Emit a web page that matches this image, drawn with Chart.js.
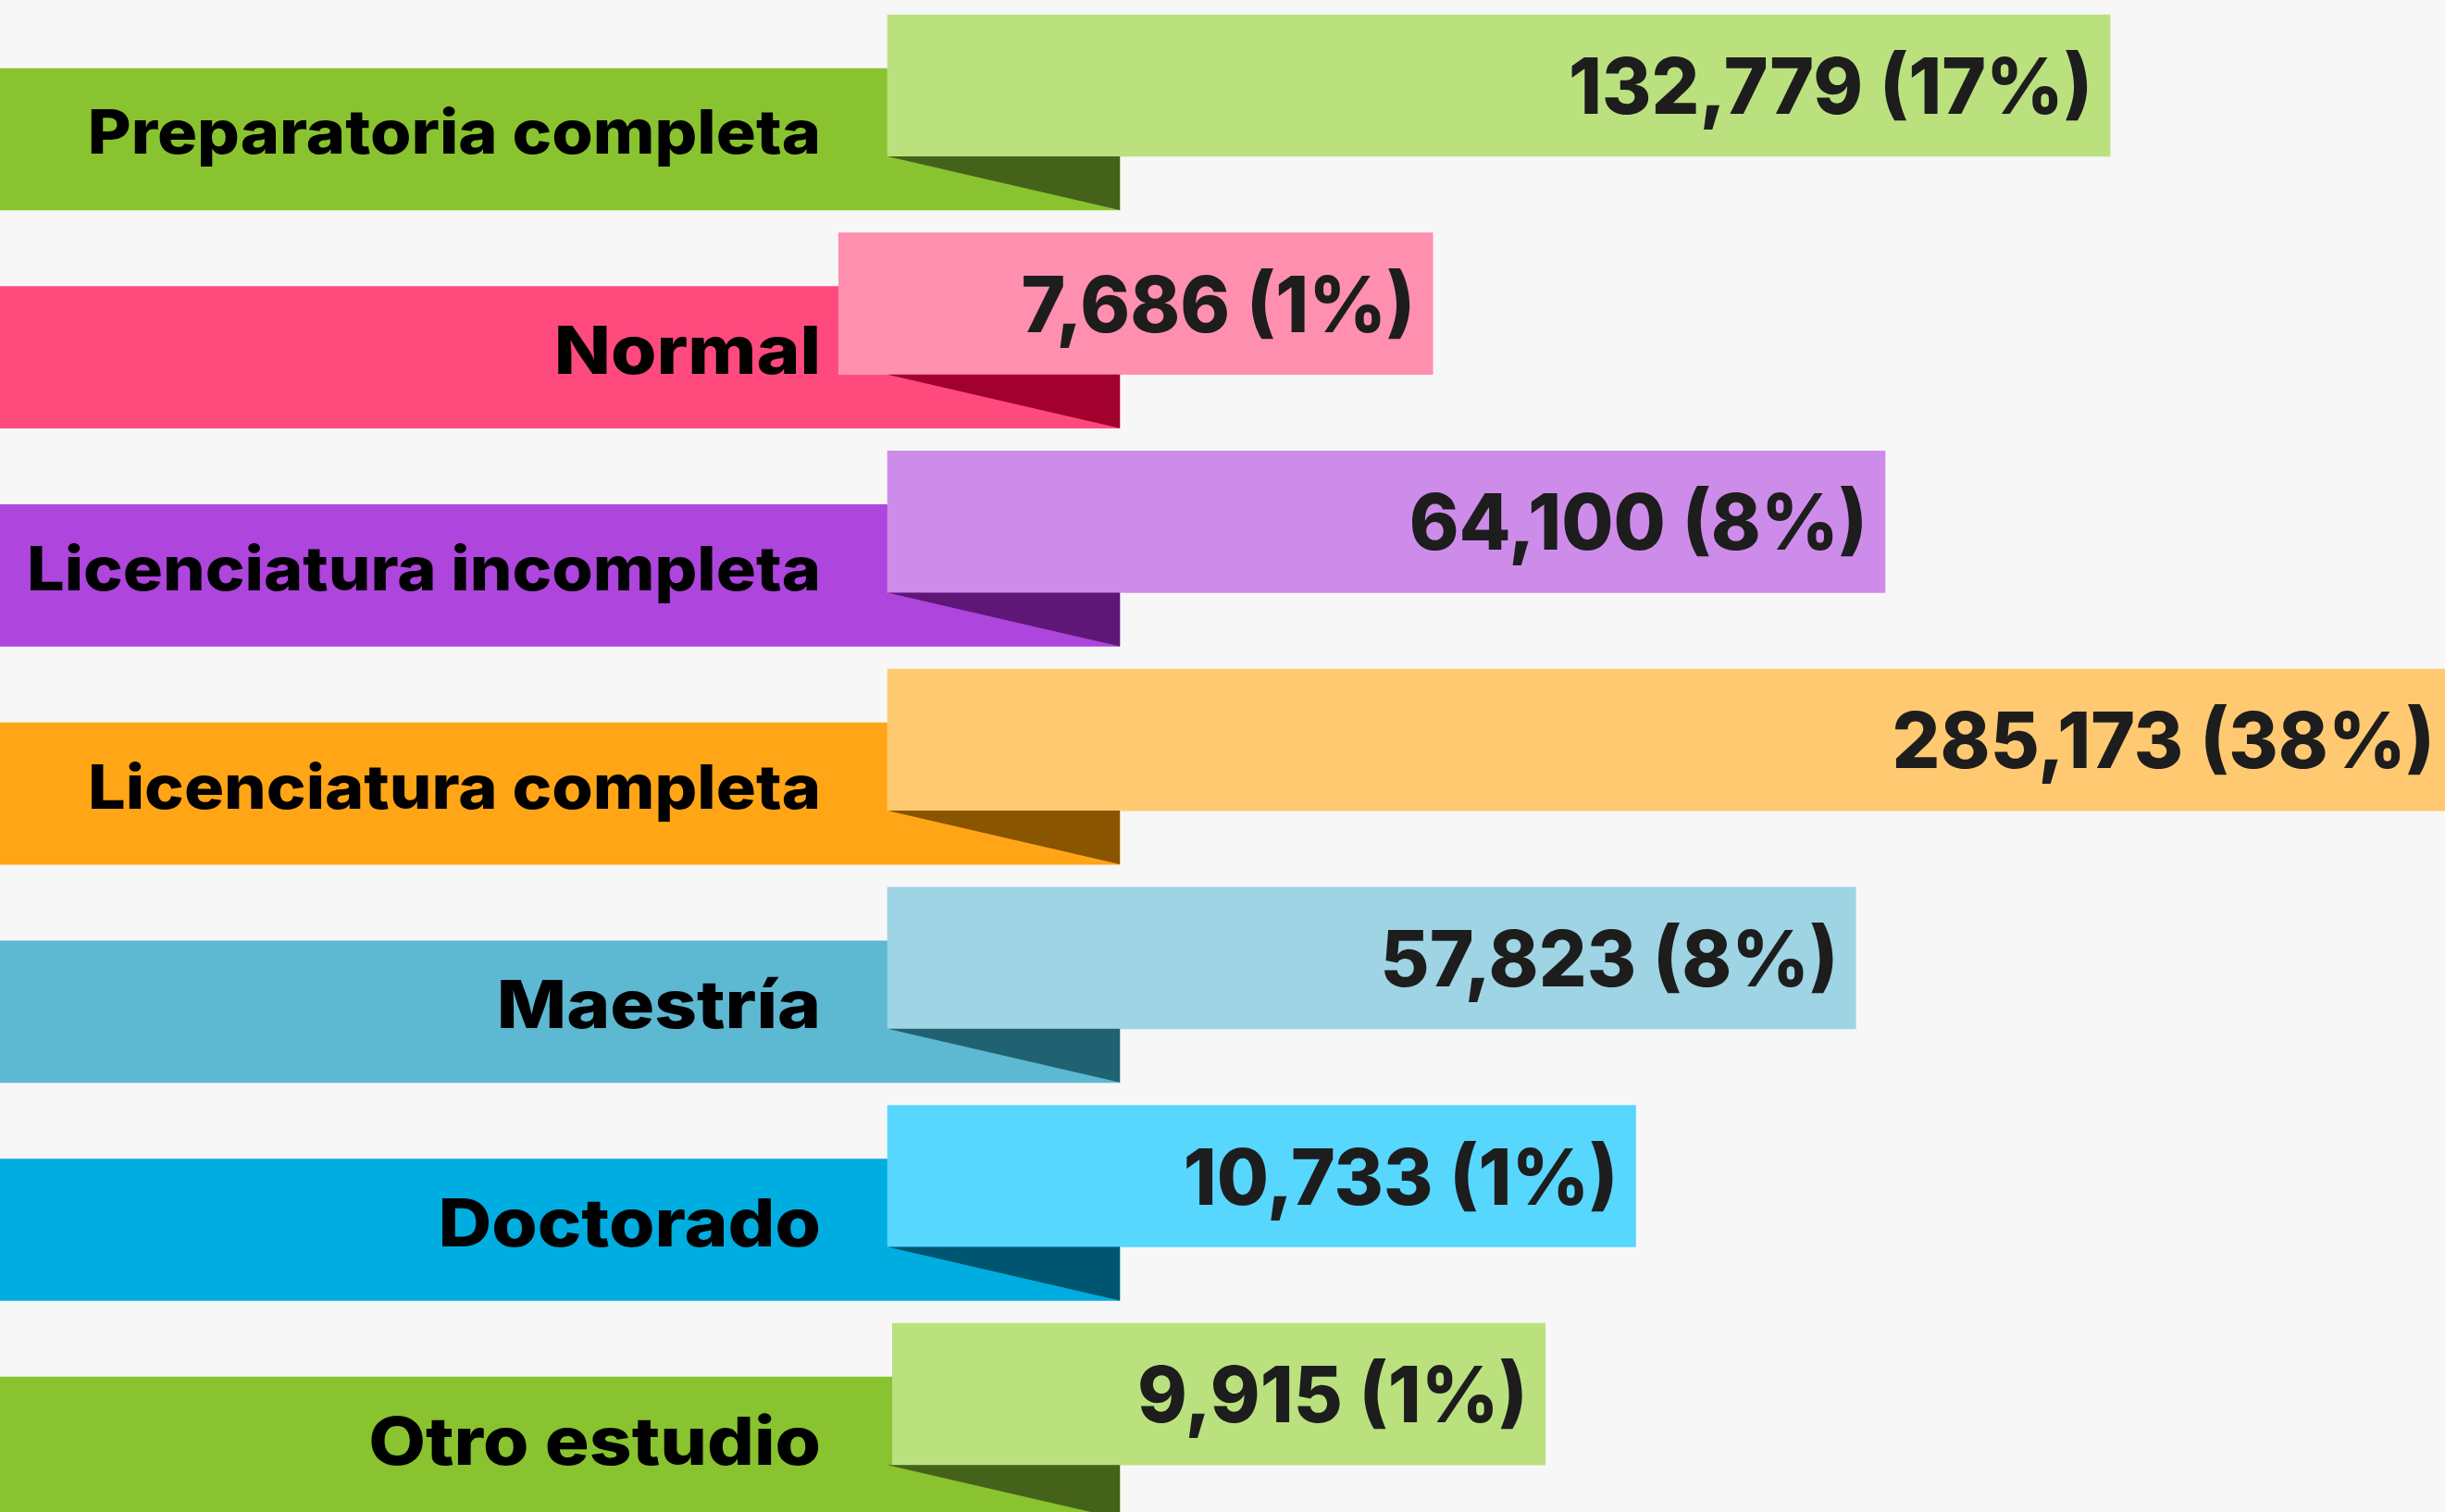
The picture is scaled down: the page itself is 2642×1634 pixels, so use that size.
<!DOCTYPE html>
<html>
<head>
<meta charset="utf-8">
<script src="https://cdn.jsdelivr.net/npm/chart.js@4.4.1/dist/chart.umd.min.js"></script>
<style>
  html, body { margin: 0; padding: 0; background: #f7f7f7; overflow: hidden; }
  .wrap { width: 2642px; height: 1634px; position: relative; }
</style>
</head>
<body>
<div class="wrap"><canvas id="escolaridadChart"></canvas></div>
<script>
const categories = ['Preparatoria completa', 'Normal', 'Licenciatura incompleta', 'Licenciatura completa', 'Maestría', 'Doctorado', 'Otro estudio'];
const personas = [132779, 7686, 64100, 285173, 57823, 10733, 9915];
const porcentajes = [17, 1, 8, 38, 8, 1, 1];

// the value boxes in the original are sized to their text, not to the value,
// so their extent is read off the picture (in percent of the width)
const boxFrom = [36.3, 34.3, 36.3, 36.3, 36.3, 36.3, 36.5];
const boxTo = [86.3, 58.6, 77.1, 100.3, 75.9, 66.9, 63.2];
const bandTo = 45.8;
const foldFrom = 36.3;

const bandColors = ['#89c32f', '#ff4a7d', '#ae45dc', '#ffa516', '#5db8d2', '#00ade1', '#89c32f'];
const boxColors = ['#bae17e', '#ff8faf', '#ce8cea', '#ffc972', '#9ed4e3', '#57d6fe', '#bae17e'];
const foldColors = ['#45621a', '#a2002f', '#5e1777', '#8a5500', '#216272', '#005570', '#45621a'];

const H = 1634;
const pitch = 235.7;     // px between rows
const thick = 153;       // bar height
const boxCenter0 = 92.5; // centre of the first value box
const drop = 58;         // band sits this much lower than the box

function rowRange(firstCenter) {
  const min = -firstCenter / pitch;
  return { min: min, max: min + H / pitch };
}

const fmt = new Intl.NumberFormat('en-US');

// draw text right-aligned at x, squeezed/stretched horizontally
function stretchedText(ctx, text, x, y, sx) {
  ctx.save();
  ctx.translate(x, y);
  ctx.scale(sx, 1);
  ctx.fillText(text, 0, 0);
  ctx.restore();
}

const ribbonPlugin = {
  id: 'ribbon',
  afterDatasetsDraw(chart) {
    const ctx = chart.ctx;
    const xs = chart.scales.x;
    const bands = chart.getDatasetMeta(0).data;
    const boxes = chart.getDatasetMeta(1).data;
    const foldX = xs.getPixelForValue(foldFrom);

    ctx.save();
    bands.forEach((band, i) => {
      const b = band.getProps(['x', 'y', 'height'], true);
      const bx = boxes[i].getProps(['x', 'y', 'height'], true);
      const boxBottom = bx.y + bx.height / 2;
      const bandBottom = b.y + b.height / 2;

      // folded corner
      ctx.fillStyle = foldColors[i];
      ctx.beginPath();
      ctx.moveTo(foldX, boxBottom);
      ctx.lineTo(b.x, boxBottom);
      ctx.lineTo(b.x, bandBottom);
      ctx.closePath();
      ctx.fill();

      ctx.textAlign = 'right';
      ctx.textBaseline = 'alphabetic';

      // category label
      const long = categories[i].length > 14;
      const size = long ? 66 : 72;
      const cap = size * 0.727;
      ctx.fillStyle = '#000000';
      ctx.font = '800 ' + size + 'px Inter';
      stretchedText(ctx, categories[i], foldX - 72, b.y + cap / 2 - 8, long ? 1.09 : 1.11);

      // value label
      const vs = 84;
      ctx.fillStyle = '#1d1d1d';
      ctx.font = '800 ' + vs + 'px Inter';
      stretchedText(ctx, fmt.format(personas[i]) + ' (' + porcentajes[i] + '%)', bx.x - 19, bx.y + vs * 0.727 / 2, 0.97);
    });
    ctx.restore();
  }
};

const bandRange = rowRange(boxCenter0 + drop);
const boxRange = rowRange(boxCenter0);

new Chart(document.getElementById('escolaridadChart'), {
  type: 'bar',
  data: {
    datasets: [
      {
        label: 'Escolaridad',
        data: categories.map((c, i) => ({ x: [0, bandTo], y: i })),
        backgroundColor: bandColors,
        yAxisID: 'yBand',
        barThickness: thick,
        grouped: false,
        order: 2
      },
      {
        label: 'Personas',
        data: categories.map((c, i) => ({ x: [boxFrom[i], boxTo[i]], y: i })),
        backgroundColor: boxColors,
        yAxisID: 'yBox',
        barThickness: thick,
        grouped: false,
        order: 1
      }
    ]
  },
  options: {
    indexAxis: 'y',
    responsive: true,
    maintainAspectRatio: false,
    animation: false,
    layout: { padding: 0 },
    plugins: {
      legend: { display: false },
      tooltip: { enabled: false }
    },
    scales: {
      x: { type: 'linear', min: 0, max: 100, bounds: 'data', offset: false, display: false },
      yBand: { type: 'linear', axis: 'y', reverse: true, bounds: 'data', offset: false, min: bandRange.min, max: bandRange.max, display: false },
      yBox: { type: 'linear', axis: 'y', reverse: true, bounds: 'data', offset: false, min: boxRange.min, max: boxRange.max, display: false }
    }
  },
  plugins: [ribbonPlugin]
});
</script>
</body>
</html>
